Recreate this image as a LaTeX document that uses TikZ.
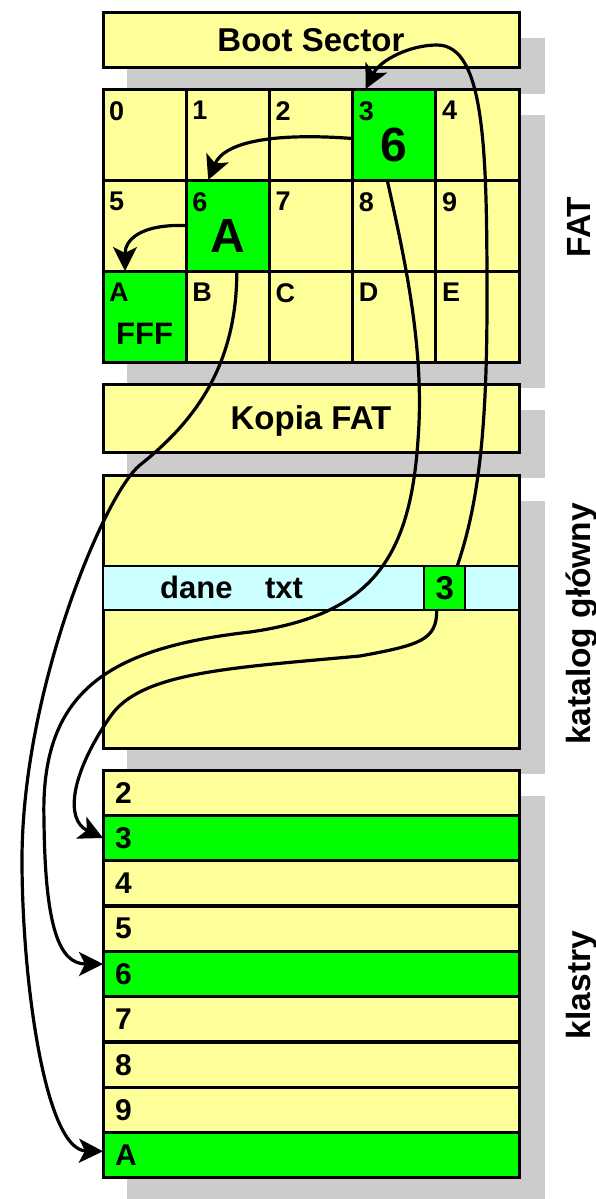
\documentclass[tikz,border=0pt]{standalone}
\usepackage{fontspec}
\setmainfont{Liberation Sans}
\usetikzlibrary{arrows.meta}
\definecolor{fatyellow}{HTML}{FFFF99}
\definecolor{fatgreen}{HTML}{00FF00}
\definecolor{entrycyan}{HTML}{CCFFFF}
\definecolor{shadowgray}{HTML}{CCCCCC}
\newcommand{\fsz}[1]{\fontsize{#1}{#1}\selectfont\bfseries}

\begin{document}
\begin{tikzpicture}[x=1pt,y=-1pt,
    yelbox/.style={draw,line width=3pt,fill=fatyellow,inner sep=0pt,outer sep=0pt},
    grnbox/.style={yelbox,fill=fatgreen},
    fatcell/.style={minimum width=83.2pt,minimum height=91pt},
    klrow/.style={minimum width=416pt,minimum height=45.33pt},
    titletxt/.style={font=\fsz{33}},
    lbl/.style={inner sep=0pt,anchor=north west,font=\fsz{27}},
    klbl/.style={inner sep=0pt,anchor=west,font=\fsz{30}},
    bigval/.style={inner sep=0pt,font=\fsz{48}},
    side/.style={rotate=90,anchor=base,inner sep=0pt,font=\fsz{33.5}},
    arr/.style={line width=3.2pt,-{Stealth[length=24pt,width=24pt,inset=6pt]}}]
  \path[use as bounding box,clip] (0,0) rectangle (595,1199); % page size

  % shadows
  \fill[shadowgray] (127,38.5) rectangle (545,94);
  \fill[shadowgray] (127,114.5) rectangle (545,388);
  \fill[shadowgray] (127,409.5) rectangle (545,478);
  \fill[shadowgray] (127,500.5) rectangle (545,774);
  \fill[shadowgray] (127,795.5) rectangle (545,1204);

  \node[yelbox,titletxt,minimum width=416pt,minimum height=55pt] (boot) at (311,40.5) {Boot Sector};

  % FAT
  \node[yelbox,fatcell] (f0) at (144.6,134.5) {};
  \node[yelbox,fatcell] (f1) at (227.8,134.5) {};
  \node[yelbox,fatcell] (f2) at (311,134.5) {};
  \node[grnbox,fatcell] (f3) at (394.2,134.5) {};
  \node[yelbox,fatcell] (f4) at (477.4,134.5) {};
  \node[yelbox,fatcell] (f5) at (144.6,225.5) {};
  \node[grnbox,fatcell] (f6) at (227.8,225.5) {};
  \node[yelbox,fatcell] (f7) at (311,225.5) {};
  \node[yelbox,fatcell] (f8) at (394.2,225.5) {};
  \node[yelbox,fatcell] (f9) at (477.4,225.5) {};
  \node[grnbox,fatcell] (fA) at (144.6,316.5) {};
  \node[yelbox,fatcell] (fB) at (227.8,316.5) {};
  \node[yelbox,fatcell] (fC) at (311,316.5) {};
  \node[yelbox,fatcell] (fD) at (394.2,316.5) {};
  \node[yelbox,fatcell] (fE) at (477.4,316.5) {};

  \node[lbl] (l0) at ([shift={(6,12)}]f0.north west) {0};
  \node[lbl] (l1) at ([shift={(6,12)}]f1.north west) {1};
  \node[lbl] (l2) at ([shift={(6,12)}]f2.north west) {2};
  \node[lbl] (l3) at ([shift={(6,12)}]f3.north west) {3};
  \node[lbl] (l4) at ([shift={(6,12)}]f4.north west) {4};
  \node[lbl] (l5) at ([shift={(6,12)}]f5.north west) {5};
  \node[lbl] (l6) at ([shift={(6,12)}]f6.north west) {6};
  \node[lbl] (l7) at ([shift={(6,12)}]f7.north west) {7};
  \node[lbl] (l8) at ([shift={(6,12)}]f8.north west) {8};
  \node[lbl] (l9) at ([shift={(6,12)}]f9.north west) {9};
  \node[lbl] (lA) at ([shift={(6,12)}]fA.north west) {A};
  \node[lbl] (lB) at ([shift={(6,12)}]fB.north west) {B};
  \node[lbl] (lC) at ([shift={(6,12)}]fC.north west) {C};
  \node[lbl] (lD) at ([shift={(6,12)}]fD.north west) {D};
  \node[lbl] (lE) at ([shift={(6,12)}]fE.north west) {E};

  \node[bigval] (v3) at ([yshift=-10pt]f3.center) {6};
  \node[bigval] (v6) at ([yshift=-10pt]f6.center) {A};
  \node[inner sep=0pt,font=\fsz{31}] (vA) at ([yshift=-17pt]fA.center) {FFF};

  \node[yelbox,titletxt,minimum width=416pt,minimum height=68pt,text depth=0pt] (kopia) at (311,418) {Kopia FAT};

  % katalog
  \node[yelbox,minimum width=416pt,minimum height=273pt] (kat) at (311,611.5) {};
  \node[yelbox,fill=entrycyan,line width=1.5pt,minimum width=416pt,minimum height=44pt] (entry) at (311,588) {};
  \node[inner sep=0pt,anchor=base west,font=\fsz{31}] (fname) at (160,598) {dane\hspace{24pt} txt};
  \node[grnbox,line width=1.5pt,minimum width=41pt,minimum height=44pt,font=\fsz{33}] (ptr) at (444.7,588) {3};

  % klastry
  \node[yelbox,klrow] (k2) at (311,792.7) {};
  \node[grnbox,klrow] (k3) at (311,838) {};
  \node[yelbox,klrow] (k4) at (311,883.3) {};
  \node[yelbox,klrow] (k5) at (311,928.7) {};
  \node[grnbox,klrow] (k6) at (311,974) {};
  \node[yelbox,klrow] (k7) at (311,1019.3) {};
  \node[yelbox,klrow] (k8) at (311,1064.7) {};
  \node[yelbox,klrow] (k9) at (311,1110) {};
  \node[grnbox,klrow] (kA) at (311,1155.3) {};
  \node[klbl] at ([xshift=12pt]k2.west) {2};
  \node[klbl] at ([xshift=12pt]k3.west) {3};
  \node[klbl] at ([xshift=12pt]k4.west) {4};
  \node[klbl] at ([xshift=12pt]k5.west) {5};
  \node[klbl] at ([xshift=12pt]k6.west) {6};
  \node[klbl] at ([xshift=12pt]k7.west) {7};
  \node[klbl] at ([xshift=12pt]k8.west) {8};
  \node[klbl] at ([xshift=12pt]k9.west) {9};
  \node[klbl] at ([xshift=12pt]kA.west) {A};

  \node[side] (sfat) at (590,227) {FAT};
  \node[side] (skat) at (590,624) {katalog główny};
  \node[side] (skl) at (590,985) {klastry};

  % chain
  \draw[arr] ([yshift=-4pt]f3.west) .. controls (280,133) and (225,140) .. ([xshift=22pt]f6.north west);
  \draw[arr] (f6.west) .. controls (140,224) and (125,240) .. ([xshift=22pt]fA.north west);
  \draw[arr] ([xshift=-8pt]ptr.north east) .. controls (480,500) and (487,420) .. (487,300)
    .. controls (487,150) and (485,45) .. (437,45) .. controls (410,45) and (380,60) .. ([xshift=13pt]f3.north west);
  \draw[arr] ([xshift=-8pt]ptr.south) .. controls (437,640) and (420,645) .. (360,656)
    .. controls (230,668) and (140,672) .. (110,717) .. controls (70,775) and (65,820) .. (k3.west);
  \draw[arr] ([xshift=-7pt]f3.south) .. controls (405,260) and (425,350) .. (418,440)
    .. controls (410,560) and (370,615) .. (250,632) .. controls (110,648) and (40,690) .. (44,820)
    .. controls (45,930) and (60,964) .. ([yshift=10pt]k6.west);
  \draw[arr] ([xshift=9pt]f6.south) .. controls (237,370) and (190,425) .. (140,465)
    .. controls (105,493) and (22,690) .. (22,860) .. controls (22,980) and (45,1150) .. ([yshift=4pt]kA.west);
\end{tikzpicture}
\end{document}
